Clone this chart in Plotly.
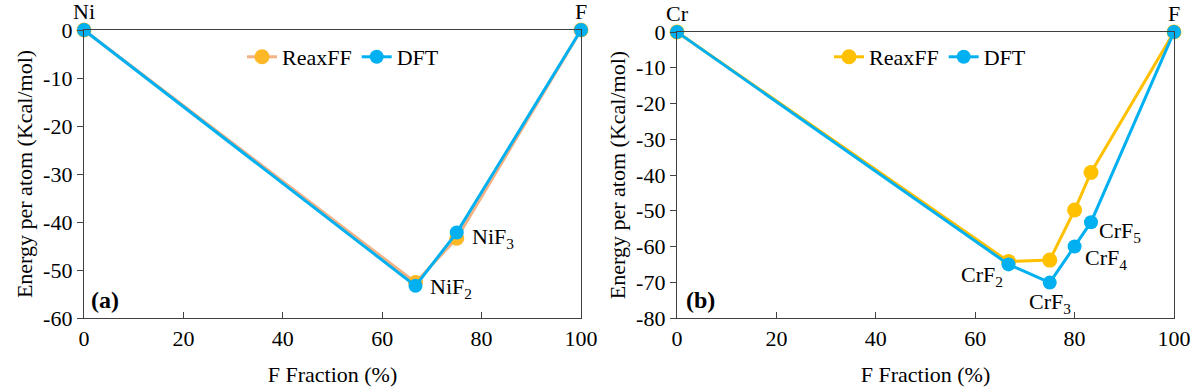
import plotly.graph_objects as go

# data
ni_x = [0, 66.7, 75, 100]
ni_reax = [0, -52.6, -43.4, 0]
ni_dft = [0, -53.3, -42.2, 0]
ni_labels = ['Ni', 'NiF<sub>2</sub>', 'NiF<sub>3</sub>', 'F']

cr_x = [0, 66.7, 75, 80, 83.3, 100]
cr_reax = [0, -64.2, -63.8, -49.8, -39.3, 0]
cr_dft = [0, -65.0, -70.1, -60.0, -53.2, 0]
cr_labels = ['Cr', 'CrF<sub>2</sub>', 'CrF<sub>3</sub>', 'CrF<sub>4</sub>', 'CrF<sub>5</sub>', 'F']

x_ticks = [0, 20, 40, 60, 80, 100]
ni_yticks = [0, -10, -20, -30, -40, -50, -60]
cr_yticks = [0, -10, -20, -30, -40, -50, -60, -70, -80]

FONT = 'Times New Roman, Liberation Serif, serif'
BLUE = '#00B0F0'
GOLD = '#FFC000'
ORANGE = '#FDB827'
PEACH = '#F4B183'

W, H = 1196, 391

fig = go.Figure()

# (a) Ni-F
fig.add_trace(go.Scatter(x=ni_x, y=ni_reax, mode='lines+markers', name='ReaxFF',
                         line=dict(color=PEACH, width=3),
                         marker=dict(color=ORANGE, size=15),
                         xaxis='x', yaxis='y', legend='legend', cliponaxis=False))
fig.add_trace(go.Scatter(x=ni_x, y=ni_dft, mode='lines+markers', name='DFT',
                         line=dict(color=BLUE, width=3),
                         marker=dict(color=BLUE, size=14),
                         xaxis='x', yaxis='y', legend='legend', cliponaxis=False))

# (b) Cr-F
fig.add_trace(go.Scatter(x=cr_x, y=cr_reax, mode='lines+markers', name='ReaxFF',
                         line=dict(color=GOLD, width=3),
                         marker=dict(color=GOLD, size=15),
                         xaxis='x2', yaxis='y2', legend='legend2', cliponaxis=False))
fig.add_trace(go.Scatter(x=cr_x, y=cr_dft, mode='lines+markers', name='DFT',
                         line=dict(color=BLUE, width=3),
                         marker=dict(color=BLUE, size=14),
                         xaxis='x2', yaxis='y2', legend='legend2', cliponaxis=False))

tfont = dict(family=FONT, size=22, color='black')

xaxis_common = dict(range=[0, 100], tickvals=x_ticks, ticktext=[str(v) for v in x_ticks],
                    ticks='inside', ticklen=6,
                    showline=True, linecolor='#404040', linewidth=1.3, mirror=True,
                    showgrid=False, zeroline=False, tickfont=tfont, automargin=False,
                    title=dict(text='F Fraction (%)', font=tfont, standoff=17))
yaxis_common = dict(ticks='outside', ticklen=6, showline=True, linecolor='#404040',
                    linewidth=1.3, mirror=True, showgrid=False, zeroline=False,
                    tickfont=tfont, automargin=False,
                    title=dict(text='Energy per atom (Kcal/mol)', font=tfont, standoff=4))

annotations = []
# element labels and compound labels, placed at the DFT points
ni_shift = [(0, 18, 'center'), (12, -2, 'left'), (13, -5, 'left'), (0, 18, 'center')]
for xv, yv, lab, (dx, dy, anc) in zip(ni_x, ni_dft, ni_labels, ni_shift):
    annotations.append(dict(x=xv, y=yv, xref='x', yref='y', text=lab, showarrow=False,
                            xanchor=anc, xshift=dx, yshift=dy, font=tfont))
cr_shift = [(0, 18, 'center'), (-4, -12, 'right'), (0, -20, 'center'),
            (8, -12, 'left'), (6, -10, 'left'), (0, 18, 'center')]
for xv, yv, lab, (dx, dy, anc) in zip(cr_x, cr_dft, cr_labels, cr_shift):
    annotations.append(dict(x=xv, y=yv, xref='x2', yref='y2', text=lab, showarrow=False,
                            xanchor=anc, xshift=dx, yshift=dy, font=tfont))

annotations.append(dict(x=89 / W, y=1 - 315 / H, xref='paper', yref='paper', text='<b>(a)</b>',
                        showarrow=False, xanchor='left', yanchor='bottom',
                        font=dict(family=FONT, size=24, color='black')))
annotations.append(dict(x=684 / W, y=1 - 315 / H, xref='paper', yref='paper', text='<b>(b)</b>',
                        showarrow=False, xanchor='left', yanchor='bottom',
                        font=dict(family=FONT, size=24, color='black')))

legend_common = dict(orientation='h', xanchor='center', yanchor='middle',
                     font=tfont, bgcolor='rgba(0,0,0,0)', itemwidth=30,
                     tracegroupgap=0)

fig.update_layout(
    template='none',
    width=W, height=H,
    margin=dict(l=0, r=0, t=0, b=0),
    paper_bgcolor='white', plot_bgcolor='white',
    font=dict(family=FONT, size=22, color='black'),
    xaxis=dict(domain=[84 / W, 581 / W], anchor='y', **xaxis_common),
    yaxis=dict(domain=[1 - 318 / H, 1 - 30 / H], anchor='x', range=[-60, 0],
               tickvals=ni_yticks, ticktext=[str(v) for v in ni_yticks], **yaxis_common),
    xaxis2=dict(domain=[677 / W, 1174 / W], anchor='y2', **xaxis_common),
    yaxis2=dict(domain=[1 - 318 / H, 1 - 32 / H], anchor='x2', range=[-80, 0],
                tickvals=cr_yticks, ticktext=[str(v) for v in cr_yticks], **yaxis_common),
    legend=dict(x=343 / W, y=1 - 57 / H, **legend_common),
    legend2=dict(x=930 / W, y=1 - 57 / H, **legend_common),
    annotations=annotations,
    showlegend=True,
)

# drop the default page margin so the figure fills the window
fig.write_html('out.html', config={'displayModeBar': False},
               post_script="document.body.style.margin = '0';")
